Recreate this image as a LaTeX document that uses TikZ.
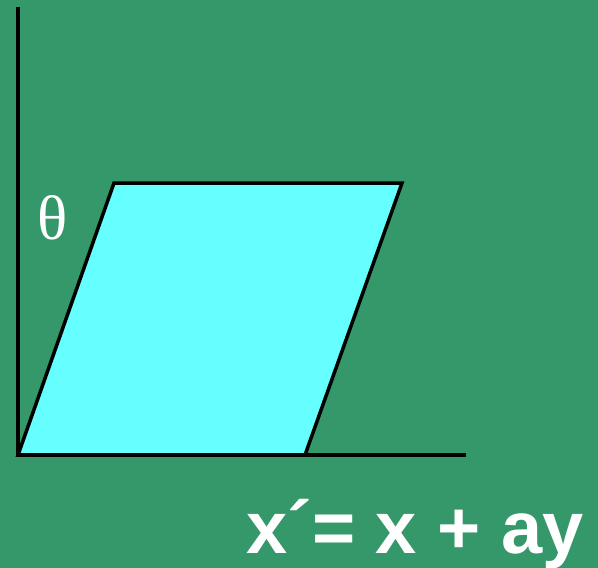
\documentclass[tikz,border=0pt]{standalone}
\usepackage{fontspec}
\setmainfont{Liberation Serif}
\newfontfamily\arialbold{Liberation Sans}[BoldFont={* Bold}]
\definecolor{bggreen}{RGB}{53,152,106}
\definecolor{shapecyan}{RGB}{102,255,255}
\begin{document}
\begin{tikzpicture}[x=1pt,y=-1pt,
  axisline/.style={line width=4pt,black},
  shapeline/.style={line width=3.5pt,black,fill=shapecyan,line join=miter}]
\fill[bggreen] (0,0) rectangle (598,568);
\useasboundingbox (0,0) rectangle (598,568);
\coordinate (top) at (18,7);
\coordinate (origin) at (18,455);
\coordinate (right) at (466,455);
\coordinate (br) at (305,455);
\coordinate (tr) at (402,183);
\coordinate (tl) at (114,183);
\draw[shapeline] (origin) -- (br) -- (tr) -- (tl) -- cycle;
\draw[axisline] (top) -- (origin) -- (right);
\node[text=white,font=\fontsize{63}{63}\selectfont,inner sep=0pt] (theta) at (53,218) {θ};
\node[text=white,font=\arialbold\bfseries\fontsize{74}{74}\selectfont,inner sep=0pt,anchor=base east] (eq) at (584,553) {x´= x + ay};
\end{tikzpicture}
\end{document}
